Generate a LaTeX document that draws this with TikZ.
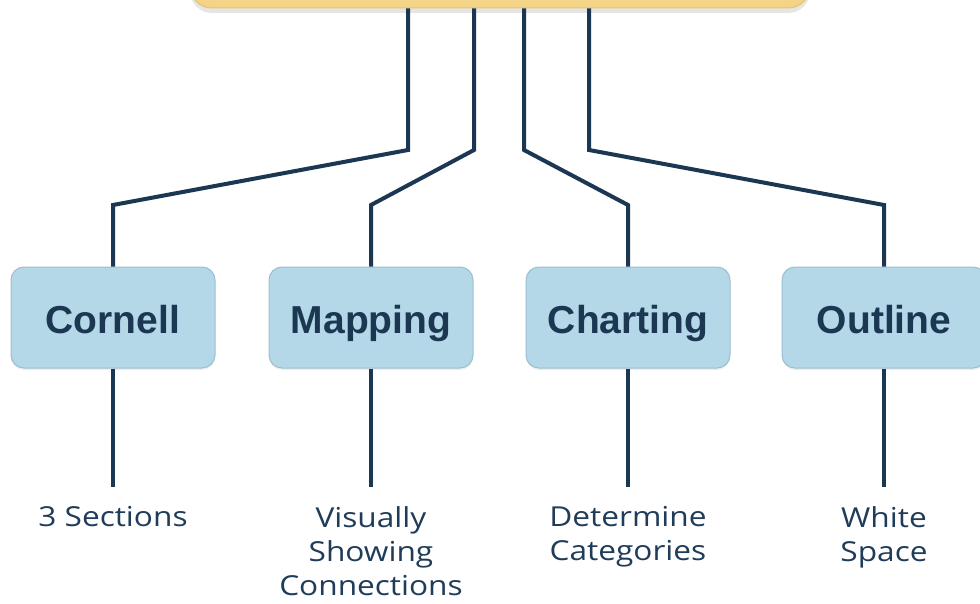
\documentclass[tikz,border=0pt]{standalone}
\usepackage{fontspec}
\setmainfont[FakeStretch=1.15]{Open Sans}
\newfontfamily\boxfont{Liberation Sans}
\usetikzlibrary{shadows}
\definecolor{navy}{HTML}{1B3752}
\definecolor{labtxt}{HTML}{1F3C59}
\definecolor{boxfill}{HTML}{B4D8E8}
\definecolor{boxline}{HTML}{9CBFD0}
\definecolor{yfill}{HTML}{F4D487}
\definecolor{yline}{HTML}{E5C36D}
\tikzset{
  catbox/.style={draw=boxline, line width=1pt, fill=boxfill, rounded corners=13pt,
    minimum width=204pt, minimum height=101pt, inner sep=0pt,
    text height=31pt, text depth=0pt,
    font=\boxfont\bfseries\fontsize{39}{44}\selectfont, text=navy,
    drop shadow={opacity=0.12, shadow xshift=0pt, shadow yshift=-2pt}},
  topbox/.style={draw=yline, line width=1pt, fill=yfill, rounded corners=22pt,
    minimum width=620pt, minimum height=80pt, inner sep=0pt,
    drop shadow={opacity=0.2, shadow xshift=0pt, shadow yshift=-5pt}},
  conn/.style={draw=navy, line width=4pt},
  leaf/.style={align=center, inner sep=0pt, anchor=north, text=labtxt,
    font=\fontsize{27.5}{34}\selectfont},
}
\begin{document}
\begin{tikzpicture}[x=1pt,y=-1pt]
\useasboundingbox[fill=white] (0,0) rectangle (980,604);
\node[topbox] (top) at (500,-32) {};
\node[catbox] (c1) at (113,317.5) {Cornell};
\node[catbox] (c2) at (371,317.5) {Mapping};
\node[catbox] (c3) at (628,317.5) {Charting};
\node[catbox] (c4) at (884,317.5) {Outline};
\node[leaf] (l1) at (113,506) {3 Sections};
\node[leaf] (l2) at (371,506) {Visually\\Showing\\Connections};
\node[leaf] (l3) at (628,506) {Determine\\Categories};
\node[leaf] (l4) at (884,506) {White\\Space};
\draw[conn] ([xshift=-92pt]top.south) -- (408,150) -- (113,205) -- (c1.north);
\draw[conn] ([xshift=-26pt]top.south) -- (474,150) -- (371,205) -- (c2.north);
\draw[conn] ([xshift=24pt]top.south) -- (524,150) -- (628,205) -- (c3.north);
\draw[conn] ([xshift=89pt]top.south) -- (589,150) -- (884,205) -- (c4.north);
\foreach \i in {1,2,3,4}
  \draw[conn, shorten >=19pt] (c\i.south) -- (l\i.north);
\end{tikzpicture}
\end{document}
